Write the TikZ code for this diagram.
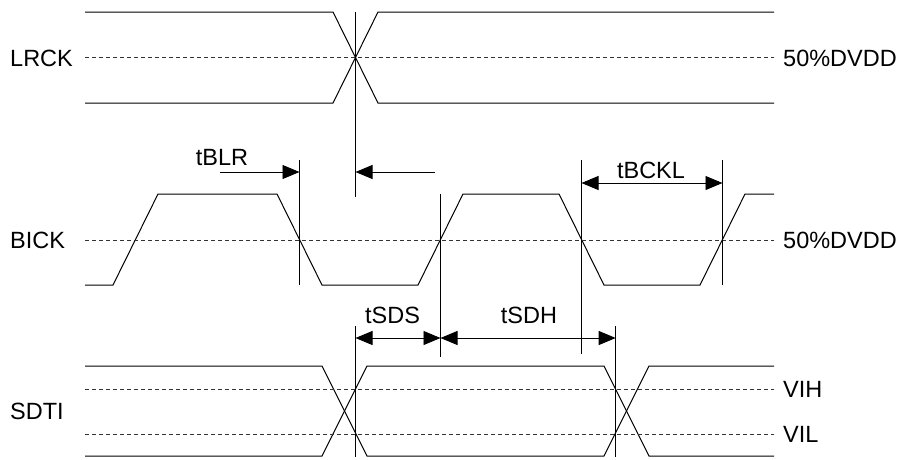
\documentclass[tikz,border=0pt]{standalone}
\usepackage{fontspec}
\setmainfont{Liberation Sans}
\usetikzlibrary{arrows.meta}
\begin{document}
\begin{tikzpicture}[x=1pt,y=-1pt,
  wave/.style={line width=1pt, line join=miter},
  refline/.style={line width=0.8pt, dash pattern=on 4pt off 3pt, black!80},
  guide/.style={line width=0.9pt},
  tip/.tip={Triangle[length=17pt,width=14pt]},
  dimone/.style={line width=0.9pt, -tip},
  dimtwo/.style={line width=0.9pt, tip-tip},
  lbl/.style={font=\fontsize{23.5}{27}\selectfont, inner sep=0pt}]
\useasboundingbox (0,0) rectangle (901,459);

% LRCK
\draw[wave] (85,12) -- (333,12) -- (378,103) -- (774,103);
\draw[wave] (85,103) -- (333,103) -- (378,12) -- (774,12);
\draw[refline] (85,57.5) -- (774,57.5);
\node[lbl, anchor=west] (lrck) at (10,58) {LRCK};
\node[lbl, anchor=west] (lrv) at (783,58) {50\%DVDD};

% BICK
\draw[wave] (85,285) -- (113,285) -- (158,194) -- (277,194) -- (322,285) -- (418,285)
  -- (463,194) -- (559,194) -- (604,285) -- (700,285) -- (745,194) -- (774,194);
\draw[refline] (85,240) -- (774,240);
\node[lbl, anchor=west] (bick) at (10,240) {BICK};
\node[lbl, anchor=west] (bickv) at (783,240) {50\%DVDD};

% SDTI
\draw[wave] (85,366) -- (322,366) -- (367,456) -- (604,456) -- (649,366) -- (774,366);
\draw[wave] (85,456) -- (322,456) -- (367,366) -- (604,366) -- (649,456) -- (774,456);
\draw[refline] (85,389) -- (774,389);
\draw[refline] (85,434) -- (774,434);
\node[lbl, anchor=west] (sdti) at (10,411) {SDTI};
\node[lbl, anchor=west] (vih) at (783,389) {VIH};
\node[lbl, anchor=west] (vil) at (783,434) {VIL};

% guide lines
\coordinate (g1t) at (355.5,12);   \coordinate (g1b) at (355.5,197);
\coordinate (g2t) at (299.5,160);  \coordinate (g2b) at (299.5,285);
\coordinate (g3t) at (440.5,194);  \coordinate (g3b) at (440.5,357);
\coordinate (g4t) at (581.5,160);  \coordinate (g4b) at (581.5,354);
\coordinate (g5t) at (722.5,160);  \coordinate (g5b) at (722.5,285);
\coordinate (g6t) at (355.5,326);  \coordinate (g6b) at (355.5,457);
\coordinate (g7t) at (615.7,326);  \coordinate (g7b) at (615.7,457);
\foreach \g in {1,...,7} \draw[guide] (g\g t) -- (g\g b);

% dimension arrows
\coordinate (blrA) at (220,172);   \coordinate (blrB) at (299.5,172);
\coordinate (lrA) at (435,172);    \coordinate (lrB) at (355.5,172);
\coordinate (bcA) at (581.5,183);  \coordinate (bcB) at (722.5,183);
\coordinate (sdsA) at (355.5,338); \coordinate (sdsB) at (440.5,338);
\coordinate (sdhB) at (615.7,338);
\draw[dimone] (blrA) -- (blrB);
\draw[dimone] (lrA) -- (lrB);
\draw[dimtwo] (bcA) -- (bcB);
\draw[dimtwo] (sdsA) -- (sdsB);
\draw[dimtwo] (sdsB) -- (sdhB);

\node[lbl] (tblr) at (222,158) {tBLR};
\node[lbl] (tbckl) at (651,170.5) {tBCKL};
\node[lbl] (tsds) at (392.5,315.5) {tSDS};
\node[lbl] (tsdh) at (529,315.5) {tSDH};
\end{tikzpicture}
\end{document}
